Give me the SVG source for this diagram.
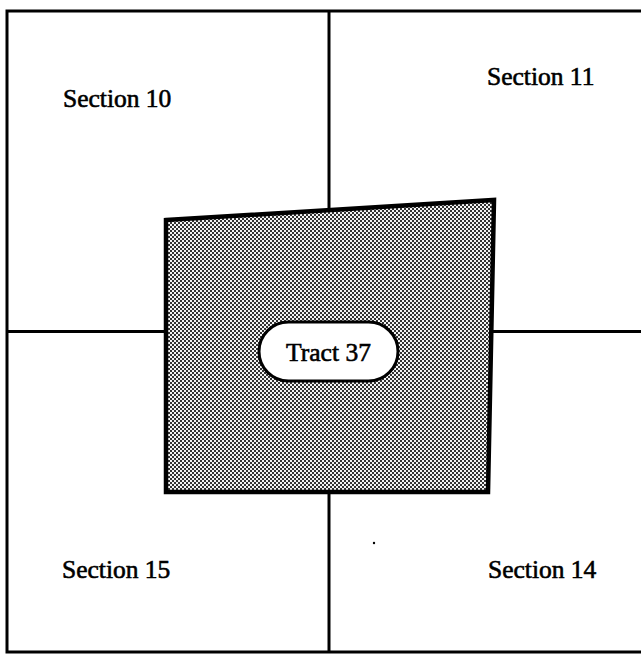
<svg xmlns="http://www.w3.org/2000/svg" width="641" height="654" viewBox="0 0 641 654">
<style>
.line{stroke:#000;stroke-width:3;fill:none}
.lbl{font-family:"Liberation Serif","Times New Roman",serif;font-size:25.5px;fill:#000;stroke:#000;stroke-width:0.6}
</style>
<defs>
<pattern id="dots" width="4" height="4" patternUnits="userSpaceOnUse">
<rect width="4" height="4" fill="#f4f4f4"/>
<rect x="0" y="0" width="2" height="2" fill="#333"/>
<rect x="2" y="2" width="2" height="2" fill="#333"/>
</pattern>
</defs>
<rect width="641" height="654" fill="#fff"/>
<g id="connectors">
<path class="line" d="M641,11 H7 V652 H641"/>
<path class="line" d="M329,11 V218"/>
<path class="line" d="M329,492 V652"/>
<path class="line" d="M7,331.5 H166"/>
<path class="line" d="M489,331.5 H641"/>
</g>
<g id="tract">
<polygon points="166,220 494,200 488,492 166,492" fill="url(#dots)" stroke="#000" stroke-width="4.5" stroke-linejoin="miter"/>
<rect x="259" y="322" width="139" height="59" rx="29.5" ry="29.5" fill="#fff" stroke="#000" stroke-width="3"/>
<text class="lbl" x="328.5" y="361" text-anchor="middle">Tract 37</text>
</g>
<g id="section10"><text class="lbl" x="63" y="107">Section 10</text></g>
<g id="section11"><text class="lbl" x="487" y="85">Section 11</text></g>
<g id="section15"><text class="lbl" x="62" y="578">Section 15</text></g>
<g id="section14"><text class="lbl" x="488" y="578">Section 14</text></g>
<circle cx="374" cy="543" r="1.2" fill="#000"/>
</svg>
